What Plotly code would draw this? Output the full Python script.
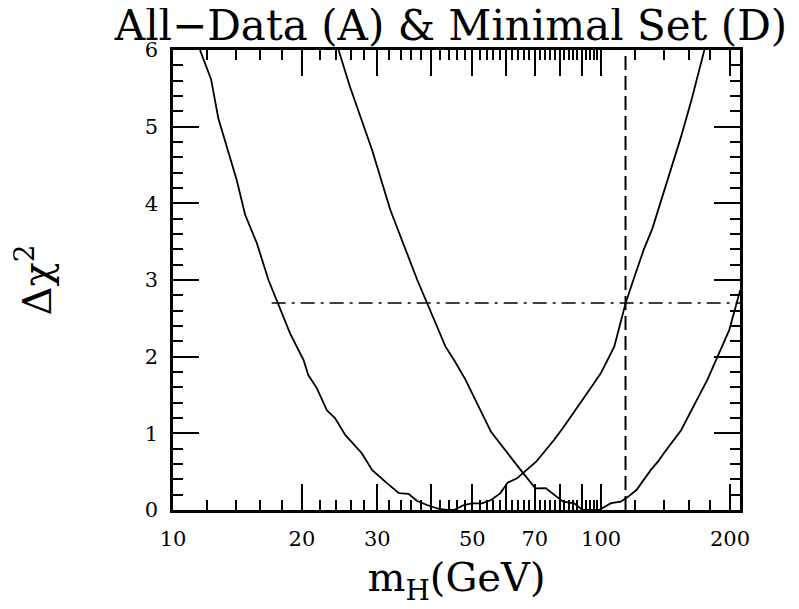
import math
import plotly.graph_objects as go

# ---- data ----
mass_A = [11.56, 12.27, 12.76, 14.09, 14.74, 15.70, 16.71, 17.8, 18.78, 20.17, 20.7, 21.67,
          22.88, 23.9, 25.25, 27.6, 29.2, 31.6, 33.7, 35.5, 37.1, 39.2, 41.4, 43.5, 45.3,
          47.8, 49.9, 52.7, 55.3, 58.1, 60.5, 63.6, 65.9, 70.5, 77.6, 81.8, 91.0, 99.8,
          107.3, 114.1, 118.9, 125.6, 131.7, 145.4, 153.7, 162.6, 174.2]
chi2_A = [6.0, 5.62, 5.11, 4.30, 3.85, 3.48, 3.00, 2.61, 2.30, 1.96, 1.76, 1.59,
          1.30, 1.20, 0.98, 0.74, 0.52, 0.35, 0.22, 0.21, 0.12, 0.065, 0.02, 0.0, 0.0,
          0.065, 0.087, 0.087, 0.13, 0.217, 0.357, 0.413, 0.487, 0.63, 0.913, 1.087, 1.457, 1.783,
          2.13, 2.70, 3.0, 3.39, 3.67, 4.43, 4.87, 5.35, 6.0]

mass_D = [24.36, 25.9, 29.16, 32.2, 37.2, 39.2, 42.1, 43.3, 45.3, 48.2, 55.3, 57.2, 60.3,
          64.9, 70.2, 74.2, 81.5, 86.5, 90.4, 98.9, 105.5, 111.1, 115.1, 120.9, 130.5,
          135.7, 140.1, 147.8, 153.7, 177.1, 199.2, 211.3]
chi2_D = [6.0, 5.52, 4.70, 3.91, 3.0, 2.70, 2.28, 2.13, 1.96, 1.70, 1.02, 0.913, 0.75,
          0.52, 0.283, 0.285, 0.109, 0.087, 0.0, 0.0, 0.09, 0.109, 0.165, 0.26, 0.52,
          0.63, 0.74, 0.913, 1.04, 1.70, 2.35, 2.87]

chi2_limit = 2.7            # horizontal dash-dot line
chi2_line_mass = [17.0, 211.0]
mass_limit = 114.0          # vertical dashed line
mass_limit_chi2 = [0.0, 6.0]

x_range = [10, 211]
y_range = [0, 6]
x_major = [10, 20, 30, 40, 50, 60, 70, 80, 90, 100, 200]
x_major_labels = ["10", "20", "30", "", "50", "", "70", "", "", "100", "200"]
x_minor = [v for v in range(12, 100, 2) if v % 10] + [120, 140, 160, 180]
y_major = [0, 1, 2, 3, 4, 5, 6]
y_major_labels = ["0", "1", "2", "3", "4", "5", "6"]
y_minor = [round(0.2 * k, 1) for k in range(31) if k % 5]

FONT = "DejaVu Serif"
W, H = 799, 609
M_L, M_R, M_T, M_B = 165, 67, 42, 107
MAJOR_LEN, MINOR_LEN = 26, 10   # tick lengths in pixels
TICK_W = 2

fig = go.Figure()
line_style = dict(color="black", width=1.8)
fig.add_trace(go.Scatter(x=mass_A, y=chi2_A, mode="lines", line=line_style, name="A"))
fig.add_trace(go.Scatter(x=mass_D, y=chi2_D, mode="lines", line=line_style, name="D"))
fig.add_trace(go.Scatter(x=chi2_line_mass, y=[chi2_limit, chi2_limit], mode="lines",
                         line=dict(color="black", width=1.6, dash="14px,6px,3px,6px")))
fig.add_trace(go.Scatter(x=[mass_limit, mass_limit], y=mass_limit_chi2, mode="lines",
                         line=dict(color="black", width=2, dash="14px,6px")))

axis_common = dict(showline=True, linecolor="black", linewidth=2.5, mirror="ticks",
                   ticks="inside", tickcolor="black", tickwidth=TICK_W, ticklen=MAJOR_LEN,
                   showgrid=False, zeroline=False, automargin=False,
                   tickfont=dict(family=FONT, size=21, color="black"))

fig.update_layout(
    width=W, height=H,
    margin=dict(l=M_L, r=M_R, t=M_T, b=M_B),
    paper_bgcolor="white", plot_bgcolor="white",
    showlegend=False,
    title=dict(text="All\u2212Data (A) & Minimal Set (D)", x=0.5545, xanchor="center",
               y=0.971, yanchor="middle", font=dict(family=FONT, size=42, color="black")),
    xaxis=dict(type="log", range=[math.log10(x_range[0]), math.log10(x_range[1])],
               tickmode="array", tickvals=x_major, ticktext=x_major_labels,
               ticklabelstandoff=8,
               minor=dict(tickmode="array", tickvals=x_minor, ticks="inside",
                          ticklen=MINOR_LEN, tickcolor="black", tickwidth=TICK_W),
               title=dict(text="m<sub>H</sub>(GeV)", font=dict(family=FONT, size=40, color="black"),
                          standoff=14),
               **axis_common),
    yaxis=dict(range=y_range, tickmode="array", tickvals=y_major, ticktext=y_major_labels,
               ticklabelstandoff=8,
               minor=dict(tickmode="array", tickvals=y_minor, ticks="inside",
                          ticklen=MINOR_LEN, tickcolor="black", tickwidth=TICK_W),
               title=dict(text="\u0394\u03c7<sup>2</sup>", font=dict(family=FONT, size=40, color="black"),
                          standoff=100),
               **axis_common),
)

fig.write_html("out.html")
